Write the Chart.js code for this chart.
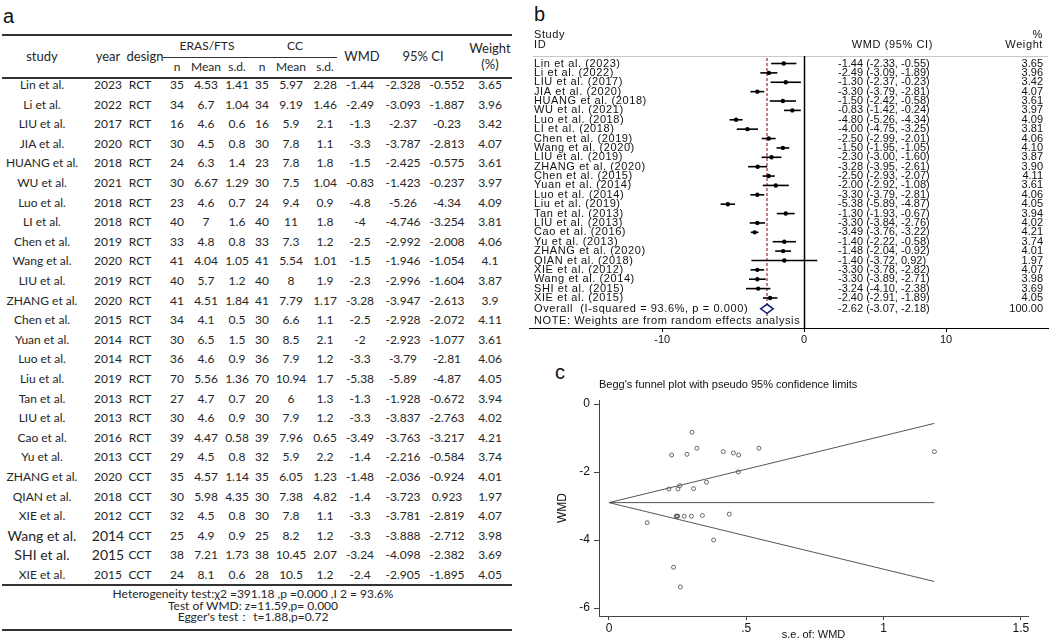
<!DOCTYPE html>
<html><head><meta charset="utf-8">
<script src="https://cdn.jsdelivr.net/npm/chart.js@4/dist/chart.umd.min.js"></script>
<style>
body{margin:0;background:#fff;width:1052px;height:642px;position:relative;overflow:hidden;font-family:Lato,"Liberation Sans",sans-serif;}
.c{position:absolute;white-space:nowrap;transform:translate(-50%,-50%);font-size:12px;line-height:1;color:#262626;}
.hl{position:absolute;background:#333;}
.lab{position:absolute;font-family:"Liberation Sans",Arial,sans-serif;font-size:20px;line-height:1;color:#111;}
canvas{position:absolute;}
</style></head><body>
<div id="tbl"></div>
<div class="lab" style="left:3px;top:6px;">a</div>
<div class="lab" style="left:534px;top:4px;">b</div>
<div class="lab" style="left:555px;top:362px;">c</div>
<canvas id="forest" width="527" height="360" style="left:525px;top:0px;"></canvas>
<canvas id="funnel" width="512" height="272" style="left:540px;top:370px;"></canvas>
<script>
// ---------- data ----------
const studies = ["Lin et al.","Li et al.","LIU et al.","JIA et al.","HUANG et al.","WU et al.","Luo et al.","LI et al.","Chen et al.","Wang et al.","LIU et al.","ZHANG et al.","Chen et al.","Yuan et al.","Luo et al.","Liu et al.","Tan et al.","LIU et al.","Cao et al.","Yu et al.","ZHANG et al.","QIAN et al.","XIE et al.","Wang et al.","SHI et al.","XIE et al."];
const years = [2023,2022,2017,2020,2018,2021,2018,2018,2019,2020,2019,2020,2015,2014,2014,2019,2013,2013,2016,2013,2020,2018,2012,2014,2015,2015];
const designs = ["RCT","RCT","RCT","RCT","RCT","RCT","RCT","RCT","RCT","RCT","RCT","RCT","RCT","RCT","RCT","RCT","RCT","RCT","RCT","CCT","CCT","CCT","CCT","CCT","CCT","CCT"];
const erasN = [35,34,16,30,24,30,23,40,33,41,40,41,34,30,36,70,27,30,39,29,35,30,32,25,38,24];
const erasMean = [4.53,6.7,4.6,4.5,6.3,6.67,4.6,7,4.8,4.04,5.7,4.51,4.1,6.5,4.6,5.56,4.7,4.6,4.47,4.5,4.57,5.98,4.5,4.9,7.21,8.1];
const erasSD = [1.41,1.04,0.6,0.8,1.4,1.29,0.7,1.6,0.8,1.05,1.2,1.84,0.5,1.5,0.9,1.36,0.7,0.9,0.58,0.8,1.14,4.35,0.8,0.9,1.73,0.6];
const ccN = [35,34,16,30,23,30,24,40,33,41,40,41,30,30,36,70,20,30,39,32,35,30,30,25,38,28];
const ccMean = [5.97,9.19,5.9,7.8,7.8,7.5,9.4,11,7.3,5.54,8,7.79,6.6,8.5,7.9,10.94,6,7.9,7.96,5.9,6.05,7.38,7.8,8.2,10.45,10.5];
const ccSD = [2.28,1.46,2.1,1.1,1.8,1.04,0.9,1.8,1.2,1.01,1.9,1.17,1.1,2.1,1.2,1.7,1.3,1.2,0.65,2.2,1.23,4.82,1.1,1.2,2.07,1.2];
const wmd = [-1.44,-2.49,-1.3,-3.3,-1.5,-0.83,-4.8,-4,-2.5,-1.5,-2.3,-3.28,-2.5,-2,-3.3,-5.38,-1.3,-3.3,-3.49,-1.4,-1.48,-1.4,-3.3,-3.3,-3.24,-2.4];
const ciLow = [-2.328,-3.093,-2.37,-3.787,-2.425,-1.423,-5.26,-4.746,-2.992,-1.946,-2.996,-3.947,-2.928,-2.923,-3.79,-5.89,-1.928,-3.837,-3.763,-2.216,-2.036,-3.723,-3.781,-3.888,-4.098,-2.905];
const ciHigh = [-0.552,-1.887,-0.23,-2.813,-0.575,-0.237,-4.34,-3.254,-2.008,-1.054,-1.604,-2.613,-2.072,-1.077,-2.81,-4.87,-0.672,-2.763,-3.217,-0.584,-0.924,0.923,-2.819,-2.712,-2.382,-1.895];
const weights = [3.65,3.96,3.42,4.07,3.61,3.97,4.09,3.81,4.06,4.1,3.87,3.9,4.11,3.61,4.06,4.05,3.94,4.02,4.21,3.74,4.01,1.97,4.07,3.98,3.69,4.05];
// forest plot (rounded CI as printed in panel b)
const forestLow = [-2.33,-3.09,-2.37,-3.79,-2.42,-1.42,-5.26,-4.75,-2.99,-1.95,-3.00,-3.95,-2.93,-2.92,-3.79,-5.89,-1.93,-3.84,-3.76,-2.22,-2.04,-3.72,-3.78,-3.89,-4.10,-2.91];
const forestHigh = [-0.55,-1.89,-0.23,-2.81,-0.58,-0.24,-4.34,-3.25,-2.01,-1.05,-1.60,-2.61,-2.07,-1.08,-2.81,-4.87,-0.67,-2.76,-3.22,-0.58,-0.92,0.92,-2.82,-2.71,-2.38,-1.89];
const overallEst = -2.62, overallLow = -3.07, overallHigh = -2.18, overallWeight = "100.00";
const overallLabel = "Overall  (I-squared = 93.6%, p = 0.000)";
const noteLabel = "NOTE: Weights are from random effects analysis";
const forestTicks = [-10, 0, 10];
// funnel plot (s.e.)
const funnelSE = [0.453,0.308,0.546,0.248,0.472,0.302,0.235,0.381,0.251,0.228,0.355,0.340,0.218,0.471,0.250,0.260,0.320,0.274,0.139,0.416,0.284,1.185,0.245,0.300,0.438,0.258];
const funnelSEmax = [0, 1.185];
const funnelCenter = [-2.90, -2.90];
const funnelUpper = [-2.90, -0.57];
const funnelLower = [-2.90, -5.22];
const funnelXTicks = [0, 0.5, 1, 1.5];
const funnelYTicks = [0, -2, -4, -6];
const footerLines = ["Heterogeneity test:\u03c72 =391.18 ,p =0.000 ,I 2 = 93.6%","Test of WMD: z=11.59,p= 0.000","Egger's test\uff1a  t=1.88,p=0.72"];
const enlargedRows = [23, 24];

// ---------- panel a : table ----------
const tbl = document.getElementById('tbl');
function cell(t, x, y, size){ const d=document.createElement('div'); d.className='c'; d.textContent=t; d.style.left=x+'px'; d.style.top=y+'px'; if(size) d.style.fontSize=size+'px'; tbl.appendChild(d); }
function hline(x1, x2, y, h){ const d=document.createElement('div'); d.className='hl'; d.style.left=x1+'px'; d.style.width=(x2-x1)+'px'; d.style.top=(y-h/2)+'px'; d.style.height=h+'px'; tbl.appendChild(d); }
const colX = [42,108,140,177,206,237,262,291,325,360,403,447,490];
hline(2,512,35,2); hline(2,512,78,2); hline(163,337,57,1); hline(2,512,585,2); hline(2,512,630,2);
cell("study",42,56,13); cell("year",108,56,13); cell("design",145,56,13);
cell("ERAS/FTS",207,46); cell("CC",295,46);
["n","Mean","s.d.","n","Mean","s.d."].forEach((t,k)=>cell(t,colX[3+k],67));
cell("WMD",362,56,13); cell("95% CI",423,56,13); cell("Weight",490,48,13); cell("(%)",490,64,13);
studies.forEach((s,i)=>{
  const y = 85 + i*19.6;
  const big = enlargedRows.includes(i) ? 14 : null;
  const vals = [s, years[i], designs[i], erasN[i], erasMean[i], erasSD[i], ccN[i], ccMean[i], ccSD[i], wmd[i], ciLow[i], ciHigh[i], weights[i]];
  vals.forEach((v,k)=>cell(String(v), colX[k], y, (k<2)?big:null));
});
footerLines.forEach((t,k)=>cell(t,253,594+k*11.7));

// ---------- panel b : forest plot ----------
const FONT = '"Liberation Sans", Arial, sans-serif';
const n = studies.length;
const overallRow = n + 0.15, noteRow = n + 1.5;
function spaced(ctx, on){ if ('letterSpacing' in ctx) ctx.letterSpacing = on ? '0.6px' : '0px'; }
const forestText = {
  id:'forestText',
  beforeDatasetsDraw(chart){
    const ctx=chart.ctx, xs=chart.scales.x, ys=chart.scales.y, a=chart.chartArea;
    ctx.save();
    ctx.strokeStyle='#c8c8c8'; ctx.lineWidth=1;
    ctx.beginPath(); ctx.moveTo(8, a.top+0.5); ctx.lineTo(523, a.top+0.5); ctx.stroke();
    const x0=Math.round(xs.getPixelForValue(0))+0.5;
    ctx.strokeStyle='#000'; ctx.lineWidth=1.5;
    ctx.beginPath(); ctx.moveTo(x0, a.top); ctx.lineTo(x0, a.bottom); ctx.stroke();
    const xo=xs.getPixelForValue(overallEst);
    ctx.strokeStyle='#9b2a2a'; ctx.lineWidth=1.2; ctx.setLineDash([3,2]);
    ctx.beginPath(); ctx.moveTo(xo, a.top+2); ctx.lineTo(xo, ys.getPixelForValue(noteRow)-4); ctx.stroke();
    ctx.setLineDash([]);
    ctx.restore();
  },
  afterDatasetsDraw(chart){
    const ctx=chart.ctx, xs=chart.scales.x, ys=chart.scales.y;
    ctx.save();
    ctx.font='11px '+FONT; ctx.fillStyle='#111'; ctx.textBaseline='middle';
    ctx.textAlign='left'; spaced(ctx,true);
    ctx.fillText('Study', 9, 35); ctx.fillText('ID', 9, 45);
    ctx.textAlign='right';
    ctx.fillText('WMD (95% CI)', 408, 45);
    ctx.fillText('%', 518, 35); ctx.fillText('Weight', 518, 45);
    studies.forEach((s,i)=>{
      const y=ys.getPixelForValue(i);
      ctx.textAlign='left'; spaced(ctx,true);
      ctx.fillText(s+' ('+years[i]+')', 9, y);
      spaced(ctx,false);
      ctx.fillText(wmd[i].toFixed(2)+' ('+forestLow[i].toFixed(2)+', '+forestHigh[i].toFixed(2)+')', 313, y);
      ctx.textAlign='right';
      ctx.fillText(weights[i].toFixed(2), 518, y);
    });
    const yo=ys.getPixelForValue(overallRow);
    ctx.textAlign='left'; spaced(ctx,true);
    ctx.fillText(overallLabel, 9, yo);
    spaced(ctx,false);
    ctx.fillText(overallEst.toFixed(2)+' ('+overallLow.toFixed(2)+', '+overallHigh.toFixed(2)+')', 313, yo);
    ctx.textAlign='right'; ctx.fillText(overallWeight, 518, yo);
    ctx.textAlign='left'; spaced(ctx,true); ctx.fillText(noteLabel, 9, ys.getPixelForValue(noteRow));
    spaced(ctx,false);
    ctx.strokeStyle='#1b1b78'; ctx.lineWidth=1.5; ctx.fillStyle='#fff';
    ctx.beginPath();
    ctx.moveTo(xs.getPixelForValue(overallLow), yo);
    ctx.lineTo(xs.getPixelForValue(overallEst), yo-4.5);
    ctx.lineTo(xs.getPixelForValue(overallHigh), yo);
    ctx.lineTo(xs.getPixelForValue(overallEst), yo+4.5);
    ctx.closePath(); ctx.fill(); ctx.stroke();
    ctx.restore();
  }
};
const ciSets = studies.map((s,i)=>({type:'line', data:[{x:forestLow[i],y:i},{x:forestHigh[i],y:i}], borderColor:'#000', borderWidth:1.6, pointRadius:0, fill:false, order:2}));
new Chart(document.getElementById('forest'), {
  type:'scatter',
  data:{datasets:[...ciSets, {data:wmd.map((v,i)=>({x:v,y:i})), backgroundColor:'#000', borderColor:'#000', pointRadius:2.2, pointBorderWidth:0, order:1}]},
  options:{
    responsive:false, animation:false, devicePixelRatio:1,
    layout:{padding:{left:0,right:4,top:56,bottom:2}},
    plugins:{legend:{display:false}, tooltip:{enabled:false}, title:{display:false}},
    scales:{
      x:{type:'linear', min:-19.39, max:17.18,
         afterBuildTicks:s=>{s.ticks=forestTicks.map(v=>({value:v}));},
         afterFit:s=>{s.height=30;},
         grid:{display:true, drawOnChartArea:false, drawTicks:true, tickLength:4, color:'#000'},
         border:{display:true, color:'#000', width:1},
         ticks:{font:{family:FONT,size:11}, color:'#111', padding:1, maxRotation:0, callback:v=>String(v)}},
      y:{type:'linear', display:false, reverse:true, min:-0.8, max:28.2}
    }
  },
  plugins:[forestText]
});

// ---------- panel c : funnel plot ----------
const funnelTitle = {
  id:'funnelTitle',
  afterDraw(chart){
    const ctx=chart.ctx; ctx.save();
    ctx.font='11px '+FONT; ctx.fillStyle='#111'; ctx.textBaseline='middle'; ctx.textAlign='left';
    ctx.fillText("Begg's funnel plot with pseudo 95% confidence limits", chart.chartArea.left, 15);
    ctx.restore();
  }
};
const lineSet = (ys)=>({type:'line', data:funnelSEmax.map((x,k)=>({x:x,y:ys[k]})), borderColor:'#555', borderWidth:1, pointRadius:0, fill:false});
new Chart(document.getElementById('funnel'), {
  type:'scatter',
  data:{datasets:[lineSet(funnelUpper), lineSet(funnelCenter), lineSet(funnelLower),
    {data:funnelSE.map((s,i)=>({x:s,y:wmd[i]})), pointStyle:'circle', pointRadius:2, borderColor:'#444', borderWidth:0.8, backgroundColor:'rgba(0,0,0,0)'}]},
  options:{
    responsive:false, animation:false, devicePixelRatio:1,
    layout:{padding:{left:0,right:24,top:30,bottom:0}},
    plugins:{legend:{display:false}, tooltip:{enabled:false}},
    scales:{
      x:{type:'linear', min:-0.0364, max:1.526,
         afterBuildTicks:s=>{s.ticks=funnelXTicks.map(v=>({value:v}));},
         afterFit:s=>{s.height=26;},
         grid:{display:true, drawOnChartArea:false, drawTicks:true, tickLength:4, color:'#444'},
         border:{display:true, color:'#444', width:1},
         ticks:{font:{family:FONT,size:12}, color:'#111', padding:1, maxRotation:0, callback:v=>v===0?'0':(v<1?String(v).replace(/^0/,''):String(v))},
         title:{display:true, text:'s.e. of: WMD', font:{family:FONT,size:11}, color:'#111', padding:{top:0,bottom:0}}},
      y:{type:'linear', min:-6.235, max:0.118,
         afterBuildTicks:s=>{s.ticks=funnelYTicks.map(v=>({value:v}));},
         afterFit:s=>{s.width=59;},
         grid:{display:true, drawOnChartArea:false, drawTicks:true, tickLength:5, color:'#444'},
         border:{display:true, color:'#444', width:1},
         ticks:{font:{family:FONT,size:12}, color:'#111', padding:4, callback:v=>String(v)},
         title:{display:true, text:'WMD', font:{family:FONT,size:12}, color:'#111', padding:{top:15,bottom:0}}}
    }
  },
  plugins:[funnelTitle]
});
</script>
</body></html>
